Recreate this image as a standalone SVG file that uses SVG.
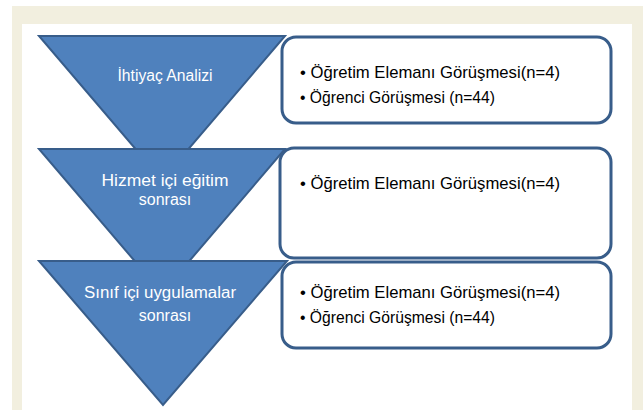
<svg xmlns="http://www.w3.org/2000/svg" width="643" height="410" viewBox="0 0 643 410">
<style>
.tri{fill:#4f81bd;stroke:#385d8a;stroke-width:2;stroke-linejoin:miter}
.box{fill:#ffffff;stroke:#385d8a;stroke-width:3}
.tt{font-family:"Liberation Sans",Arial,sans-serif;font-size:16px;fill:#ffffff;text-anchor:middle}
.bt{font-family:"Liberation Sans",Arial,sans-serif;font-size:17px;fill:#000000}
</style>
<rect x="0" y="0" width="643" height="410" fill="#ffffff"/>
<rect x="12" y="6" width="631" height="404" fill="#f2efdf"/>
<rect x="22" y="24" width="610" height="386" fill="#ffffff"/>
<g id="node1">
<polygon class="tri" points="39,36 285,36 162,180"/>
<text class="tt" x="165" y="81" textLength="95" lengthAdjust="spacingAndGlyphs">İhtiyaç Analizi</text>
</g>
<g id="box1">
<rect class="box" x="282" y="37" width="329" height="86" rx="14"/>
<text class="bt" x="300" y="78" textLength="260" lengthAdjust="spacingAndGlyphs">• Öğretim Elemanı Görüşmesi(n=4)</text>
<text class="bt" x="300" y="103" textLength="195" lengthAdjust="spacingAndGlyphs">• Öğrenci Görüşmesi (n=44)</text>
</g>
<g id="node2">
<polygon class="tri" points="39,149 285,149 162,293"/>
<text class="tt" x="165" y="186" textLength="127" lengthAdjust="spacingAndGlyphs">Hizmet içi eğitim</text>
<text class="tt" x="165" y="205">sonrası</text>
</g>
<g id="box2">
<rect class="box" x="280" y="148" width="331" height="110" rx="14"/>
<text class="bt" x="300" y="189" textLength="260" lengthAdjust="spacingAndGlyphs">• Öğretim Elemanı Görüşmesi(n=4)</text>
</g>
<g id="node3">
<polygon class="tri" points="39,261 287,261 163,405"/>
<text class="tt" x="160" y="298" textLength="152" lengthAdjust="spacingAndGlyphs">Sınıf içi uygulamalar</text>
<text class="tt" x="165" y="321">sonrası</text>
</g>
<g id="box3">
<rect class="box" x="282" y="262" width="329" height="86" rx="14"/>
<text class="bt" x="300" y="298" textLength="260" lengthAdjust="spacingAndGlyphs">• Öğretim Elemanı Görüşmesi(n=4)</text>
<text class="bt" x="300" y="323" textLength="195" lengthAdjust="spacingAndGlyphs">• Öğrenci Görüşmesi (n=44)</text>
</g>
<g id="connectors"/>
</svg>
